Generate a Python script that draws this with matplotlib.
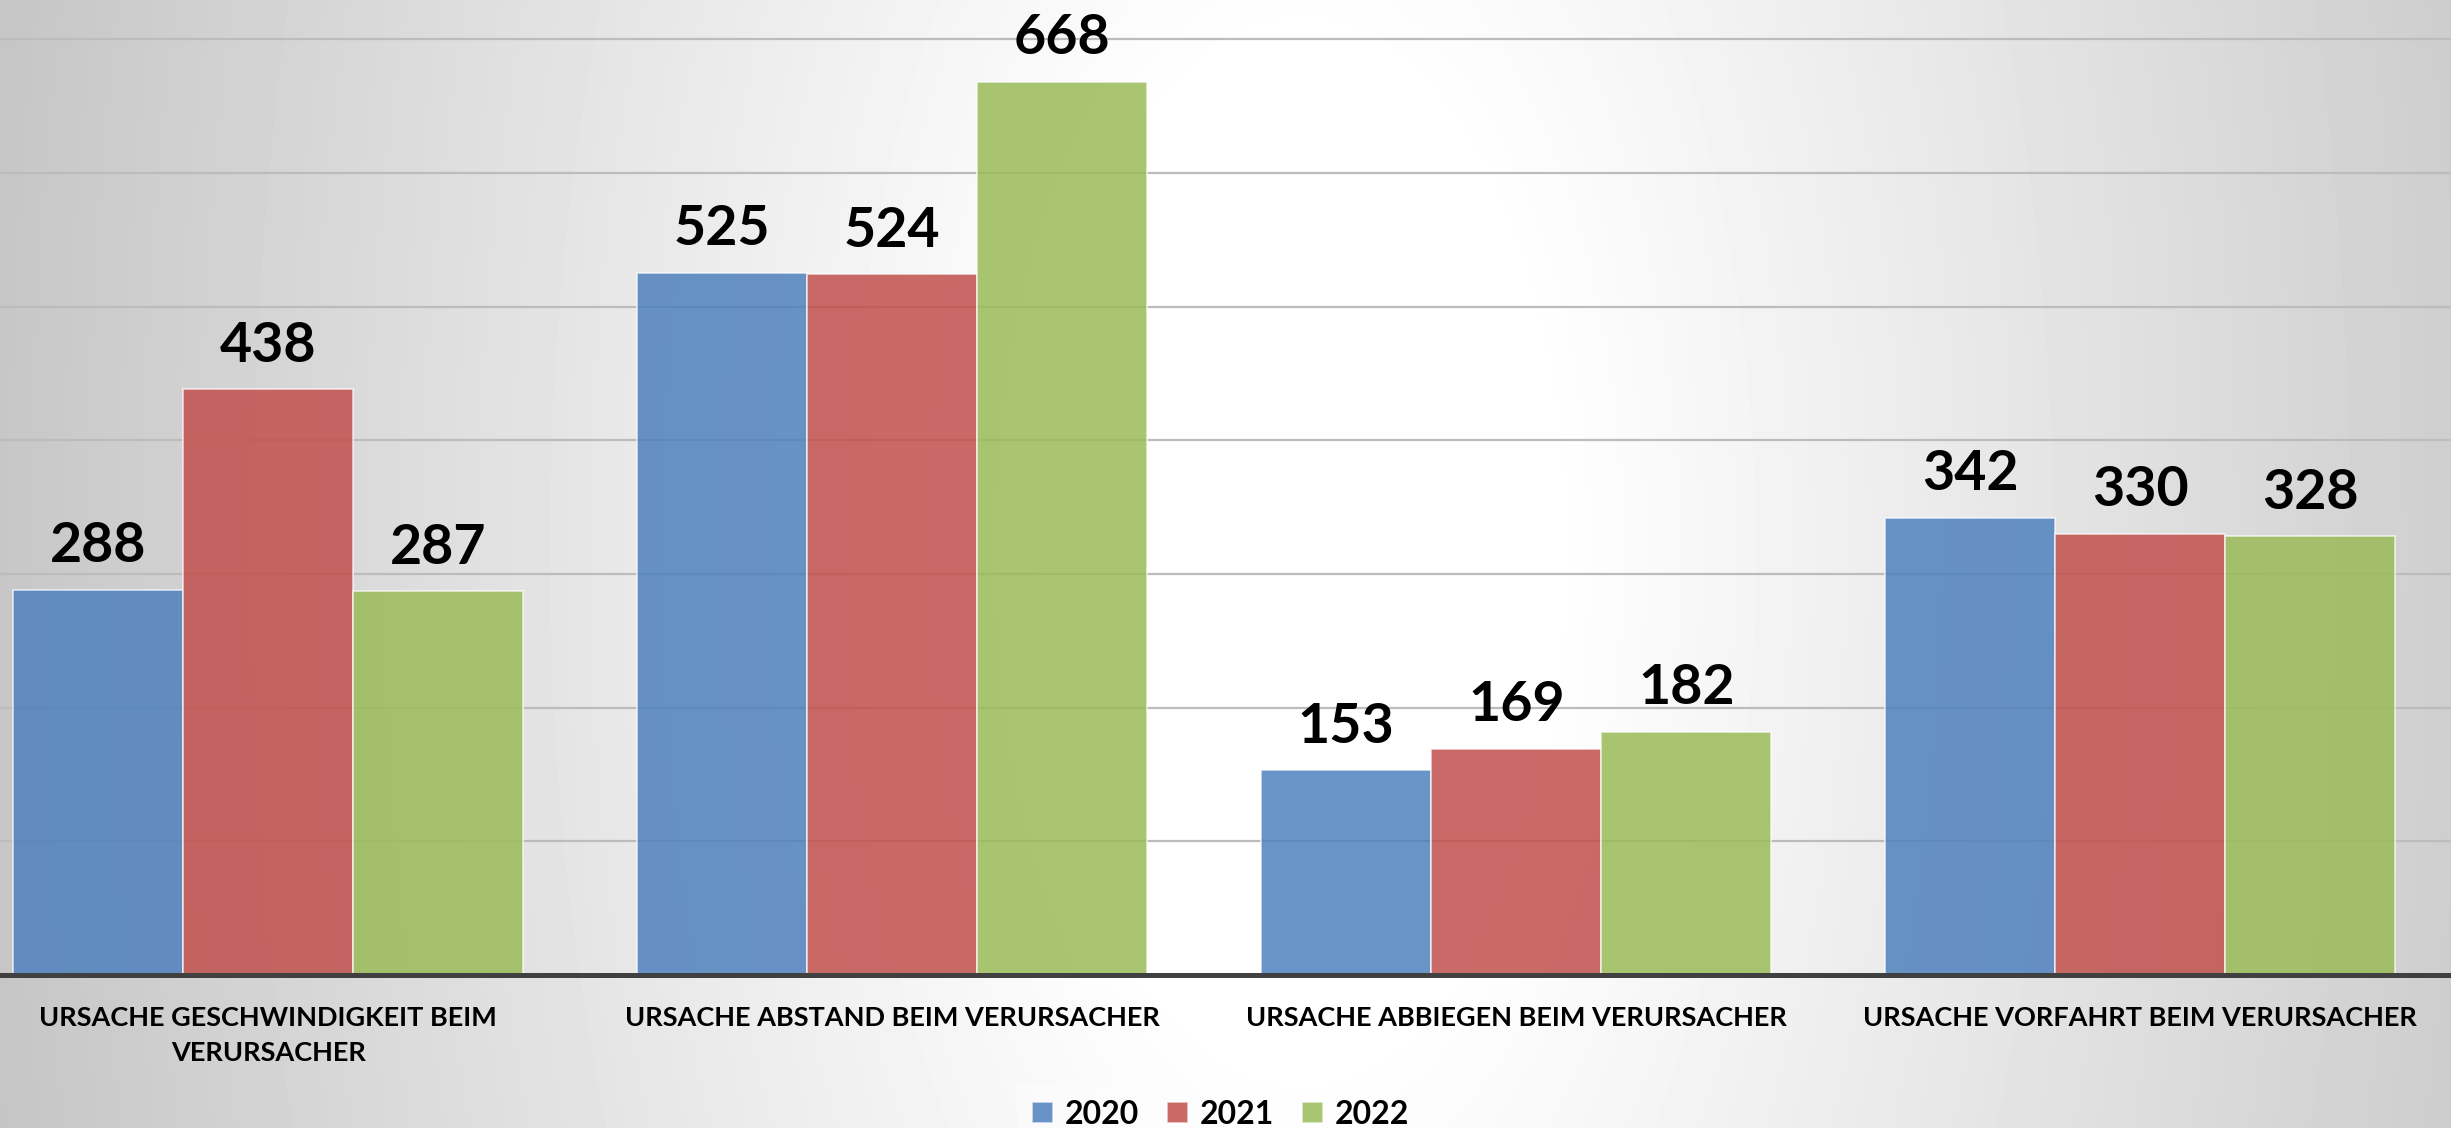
import matplotlib
matplotlib.use('Agg')
import matplotlib.pyplot as plt
import numpy as np

plt.rcParams['font.family'] = ['Lato', 'DejaVu Sans']

# data
categories = ['URSACHE GESCHWINDIGKEIT BEIM\nVERURSACHER',
              'URSACHE ABSTAND BEIM VERURSACHER',
              'URSACHE ABBIEGEN BEIM VERURSACHER',
              'URSACHE VORFAHRT BEIM VERURSACHER']
years = ['2020', '2021', '2022']
values_2020 = [288, 525, 153, 342]
values_2021 = [438, 524, 169, 330]
values_2022 = [287, 668, 182, 328]

colors = [(79/255, 129/255, 189/255, 0.85),
          (192/255, 80/255, 77/255, 0.85),
          (155/255, 187/255, 89/255, 0.85)]

W, H = 2451, 1128
fig = plt.figure(figsize=(W / 100, H / 100), dpi=100)

# radial grey background, white towards the middle
bg = fig.add_axes([0, 0, 1, 1], zorder=0)
yy, xx = np.mgrid[0:H:4, 0:W:4]
d = np.sqrt((xx - 1300) ** 2 + ((yy - 550) / 2.0) ** 2)
shade = 1 - 0.21 * np.clip((d - 250) / 1000, 0, None)
bg.imshow(shade, cmap='gray', vmin=0, vmax=1, aspect='auto',
          extent=[0, 1, 0, 1], interpolation='bilinear')
bg.axis('off')

base = 975 / H
ax = fig.add_axes([0, 1 - base, 1, base], zorder=1)
ax.set_facecolor('none')

x = np.arange(len(categories))
width = 0.2725
series = [values_2020, values_2021, values_2022]
bars = []
for i, vals in enumerate(series):
    b = ax.bar(x + (i - 1) * width, vals, width, color=colors[i],
               edgecolor=(1, 1, 1, 0.7), linewidth=1.2, label=years[i])
    bars.append(b)
    for xi, v in zip(x + (i - 1) * width, vals):
        ax.annotate(str(v), (xi, v), xytext=(0, 20), textcoords='offset points',
                    ha='center', va='baseline', fontsize=40, fontweight='bold')

ax.set_xlim(-0.43, 3.498)
ax.set_ylim(0, 975 / 1.337)
ax.set_yticks(range(100, 800, 100))
ax.yaxis.grid(True, color='#bcbcbc', linewidth=1.6)
ax.set_axisbelow(True)
ax.tick_params(axis='y', left=False, labelleft=False)
ax.tick_params(axis='x', length=0, pad=22)
ax.set_xticks(x)
ax.set_xticklabels(categories, fontsize=19.5, fontweight='bold', linespacing=1.55)
for s in ax.spines.values():
    s.set_visible(False)
ax.axhline(0, color='#404040', linewidth=3.6, clip_on=False, zorder=5)

leg = fig.legend(handles=bars, loc='center', bbox_to_anchor=(0.498, 0.012),
                 ncol=3, frameon=True, fancybox=False, facecolor='white',
                 framealpha=0.4, edgecolor='none',
                 prop={'size': 23, 'weight': 'bold'},
                 handlelength=0.65, handleheight=0.65, handletextpad=0.35,
                 columnspacing=0.9, borderpad=0.5)

plt.savefig('out.png', dpi=100)
